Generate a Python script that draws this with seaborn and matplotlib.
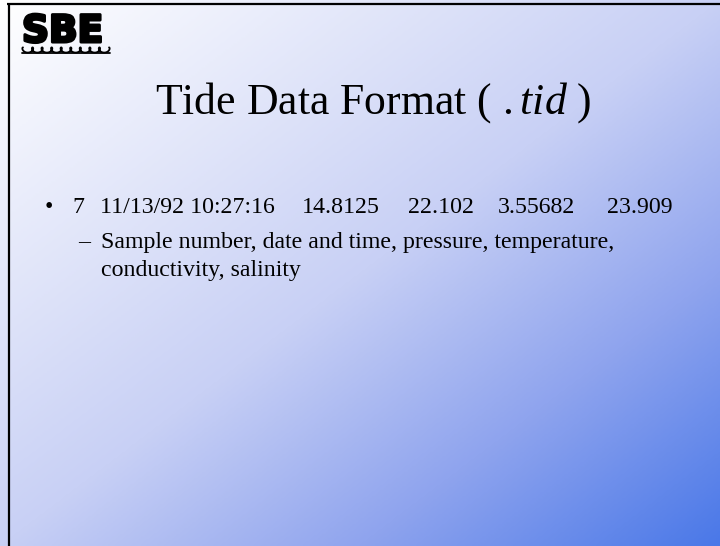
import numpy as np
import matplotlib
matplotlib.use("Agg")
import matplotlib.pyplot as plt
import matplotlib.patheffects as pe
from matplotlib.colors import LinearSegmentedColormap
import seaborn as sns

# ---- content ----
title_text = r"Tide Data Format ( $\mathit{.tid}$ )"
logo_text = "SBE"
bullet_fields = ["7", "11/13/92 10:27:16", "14.8125", "22.102", "3.55682", "23.909"]
sub_lines = ["Sample number, date and time, pressure, temperature,",
             "conductivity, salinity"]

# ---- layout (pixels) ----
W, H = 720, 546
field_x = [72, 100, 302, 408, 498, 607]
FS = 17.2

sns.set_theme(style="white")
plt.rcParams["font.family"] = ["Liberation Serif", "DejaVu Serif"]
plt.rcParams["mathtext.fontset"] = "custom"
plt.rcParams["mathtext.it"] = "Liberation Serif:italic"
plt.rcParams["mathtext.rm"] = "Liberation Serif"

fig = plt.figure(figsize=(W / 100, H / 100), dpi=100)
ax = fig.add_axes([0, 0, 1, 1])
ax.set_xlim(0, W)
ax.set_ylim(H, 0)
ax.set_axis_off()

# background gradient (white top-left -> blue bottom-right)
xx, yy = np.meshgrid(np.linspace(0, 1, 360), np.linspace(0, 1, 273))
t = np.clip(0.5 * xx + 0.5 * yy, 0, 1)
cmap = LinearSegmentedColormap.from_list(
    "bg", [(0.0, "#ffffff"), (0.5, "#c8d0f5"), (0.75, "#8fa4ee"), (1.0, "#4a78e8")])
ax.imshow(t, cmap=cmap, vmin=0, vmax=1, extent=[0, W, H, 0], aspect="auto",
          interpolation="bilinear", zorder=0)

# borders
ax.plot([7, W], [3.5, 3.5], color="black", lw=1.6, solid_capstyle="butt", zorder=3)
ax.plot([8.5, 8.5], [3, H], color="black", lw=1.6, solid_capstyle="butt", zorder=3)

# logo: heavy letters + curling-wave ornament with underline
ax.text(22, 42, logo_text, fontsize=27, fontweight="heavy", family="DejaVu Sans",
        color="black", va="baseline", ha="left", zorder=4,
        path_effects=[pe.withStroke(linewidth=2.2, foreground="black")])
n_curls = 9
ph = np.linspace(0, n_curls * 2 * np.pi, 600)
a_ = 86 / (n_curls * 2 * np.pi)
wx = 23 + a_ * ph - 2.6 * np.sin(ph)
wy = 50 - 2.6 * np.cos(ph)
ax.plot(wx, wy, color="black", lw=1.3, zorder=4)
ax.plot([22, 110], [53.2, 53.2], color="black", lw=1.3, zorder=4)

# title
ax.text(155, 114, title_text, fontsize=31.5, color="black", va="baseline",
        ha="left", zorder=4)

# bullet line
ax.text(45, 213, "•", fontsize=FS, color="black", va="baseline", ha="left", zorder=4)
for fx, f in zip(field_x, bullet_fields):
    ax.text(fx, 213, f, fontsize=FS, color="black", va="baseline", ha="left", zorder=4)

# sub bullet
ax.text(78, 248, "–", fontsize=FS, color="black", va="baseline", ha="left", zorder=4)
for i, line in enumerate(sub_lines):
    ax.text(101, 248 + 28 * i, line, fontsize=FS, color="black", va="baseline",
            ha="left", zorder=4)

fig.savefig("out.png", dpi=100)
